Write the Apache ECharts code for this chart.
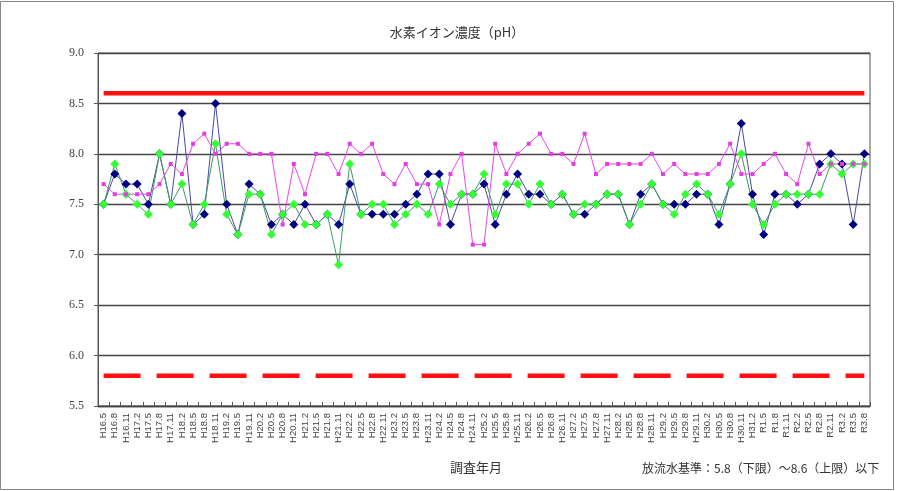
<!DOCTYPE html>
<html>
<head>
<meta charset="utf-8">
<script src="https://cdn.jsdelivr.net/npm/echarts@6/dist/echarts.min.js"></script>
<style>
html,body{margin:0;padding:0;background:#fff;}
#chart{width:900px;height:491px;}
</style>
</head>
<body>
<div id="chart"></div>
<script>
// ---- data ----
const categories = [
  'H16.5','H16.8','H16.11','H17.2','H17.5','H17.8','H17.11','H18.2','H18.5','H18.8',
  'H18.11','H19.2','H19.5','H19.11','H20.2','H20.5','H20.8','H20.11','H21.2','H21.5',
  'H21.8','H21.11','H22.2','H22.5','H22.8','H22.11','H23.2','H23.5','H23.8','H23.11',
  'H24.2','H24.5','H24.8','H24.11','H25.2','H25.5','H25.8','H25.11','H26.2','H26.5',
  'H26.8','H26.11','H27.2','H27.5','H27.8','H27.11','H28.2','H28.5','H28.8','H28.11',
  'H29.2','H29.5','H29.8','H29.11','H30.2','H30.5','H30.8','H30.11','H31.2','R1.5',
  'R1.8','R1.11','R2.2','R2.5','R2.8','R2.11','R3.2','R3.5','R3.8'
];
const seriesNavy = [
  7.5,7.8,7.7,7.7,7.5,8.0,7.5,8.4,7.3,7.4,
  8.5,7.5,7.2,7.7,7.6,7.3,7.4,7.3,7.5,7.3,
  7.4,7.3,7.7,7.4,7.4,7.4,7.4,7.5,7.6,7.8,
  7.8,7.3,7.6,7.6,7.7,7.3,7.6,7.8,7.6,7.6,
  7.5,7.6,7.4,7.4,7.5,7.6,7.6,7.3,7.6,7.7,
  7.5,7.5,7.5,7.6,7.6,7.3,7.7,8.3,7.6,7.2,
  7.6,7.6,7.5,7.6,7.9,8.0,7.9,7.3,8.0
];
const seriesGreen = [
  7.5,7.9,7.6,7.5,7.4,8.0,7.5,7.7,7.3,7.5,
  8.1,7.4,7.2,7.6,7.6,7.2,7.4,7.5,7.3,7.3,
  7.4,6.9,7.9,7.4,7.5,7.5,7.3,7.4,7.5,7.4,
  7.7,7.5,7.6,7.6,7.8,7.4,7.7,7.7,7.5,7.7,
  7.5,7.6,7.4,7.5,7.5,7.6,7.6,7.3,7.5,7.7,
  7.5,7.4,7.6,7.7,7.6,7.4,7.7,8.0,7.5,7.3,
  7.5,7.6,7.6,7.6,7.6,7.9,7.8,7.9,7.9
];
const seriesMagenta = [
  7.7,7.6,7.6,7.6,7.6,7.7,7.9,7.8,8.1,8.2,
  8.0,8.1,8.1,8.0,8.0,8.0,7.3,7.9,7.6,8.0,
  8.0,7.8,8.1,8.0,8.1,7.8,7.7,7.9,7.7,7.7,
  7.3,7.8,8.0,7.1,7.1,8.1,7.8,8.0,8.1,8.2,
  8.0,8.0,7.9,8.2,7.8,7.9,7.9,7.9,7.9,8.0,
  7.8,7.9,7.8,7.8,7.8,7.9,8.1,7.8,7.8,7.9,
  8.0,7.8,7.7,8.1,7.8,7.9,7.9,7.9,7.9
];
const upperLimit = 8.6;
const lowerLimit = 5.8;
const yTicks = [5.5, 6.0, 6.5, 7.0, 7.5, 8.0, 8.5, 9.0];

const titleText = '水素イオン濃度（pH）';
const xAxisTitle = '調査年月';
const noteText = '放流水基準：5.8（下限）～8.6（上限）以下';

// ---- chart ----
const chart = echarts.init(document.getElementById('chart'), null, {renderer: 'canvas'});
const jp = '"Noto Sans CJK JP", "Noto Sans", sans-serif';

const option = {
  backgroundColor: '#ffffff',
  animation: false,
  title: {
    text: titleText,
    left: 452, top: 21, textAlign: 'center',
    textStyle: {fontFamily: jp, fontSize: 13, fontWeight: 'normal', color: '#333'}
  },
  grid: {
    left: 98, right: 30, top: 53, bottom: 85,
    show: true, borderColor: '#555', borderWidth: 1, backgroundColor: 'transparent'
  },
  xAxis: {
    type: 'category',
    data: categories,
    boundaryGap: true,
    axisLine: {lineStyle: {color: '#444', width: 1.3}},
    axisTick: {show: true, inside: true, length: 4, interval: 0, lineStyle: {color: '#555'}},
    axisLabel: {
      interval: 0, rotate: 90, margin: 7,
      fontFamily: '"Liberation Sans", sans-serif', fontSize: 9.5, color: '#444'
    },
    splitLine: {show: false}
  },
  yAxis: {
    type: 'value',
    min: yTicks[0], max: yTicks[yTicks.length - 1], interval: 0.5,
    axisLine: {show: true, lineStyle: {color: '#555'}},
    axisTick: {show: true, length: 4, lineStyle: {color: '#555'}},
    axisLabel: {
      margin: 14, fontFamily: '"Liberation Serif", serif', fontSize: 12, color: '#444',
      formatter: v => v.toFixed(1)
    },
    splitLine: {show: true, lineStyle: {color: '#444', width: 1.3}}
  },
  series: [
    {
      name: 'upper', type: 'line',
      data: categories.map(() => upperLimit),
      symbol: 'none', silent: true,
      lineStyle: {color: '#ff1010', width: 4.5}
    },
    {
      name: 'lower', type: 'line',
      data: categories.map(() => lowerLimit),
      symbol: 'none', silent: true,
      lineStyle: {color: '#ff1010', width: 4.5, type: [37, 16]}
    },
    {
      name: 'navy', type: 'line', data: seriesNavy,
      symbol: 'diamond', symbolSize: 9, showAllSymbol: true,
      lineStyle: {color: '#4a4aa0', width: 1},
      itemStyle: {color: '#000080'}
    },
    {
      name: 'green', type: 'line', data: seriesGreen,
      symbol: 'diamond', symbolSize: 9, showAllSymbol: true,
      lineStyle: {color: '#3a9a60', width: 1},
      itemStyle: {color: '#33ff33'}
    },
    {
      name: 'magenta', type: 'line', data: seriesMagenta,
      symbol: 'rect', symbolSize: 4, showAllSymbol: true,
      lineStyle: {color: '#ee44ee', width: 1},
      itemStyle: {color: '#e040e0'}
    }
  ],
  graphic: [
    {
      type: 'text', left: 450, top: 461,
      style: {text: xAxisTitle, fontFamily: jp, fontSize: 13, fill: '#333'}
    },
    {
      type: 'text', left: 642, top: 462,
      style: {text: noteText, fontFamily: jp, fontSize: 12, fill: '#333'}
    },
    {
      type: 'rect', silent: true, z: -1,
      shape: {x: 0.5, y: 1.5, width: 893, height: 488},
      style: {fill: 'none', stroke: '#888', lineWidth: 1}
    }
  ]
};
chart.setOption(option);
</script>
</body>
</html>
